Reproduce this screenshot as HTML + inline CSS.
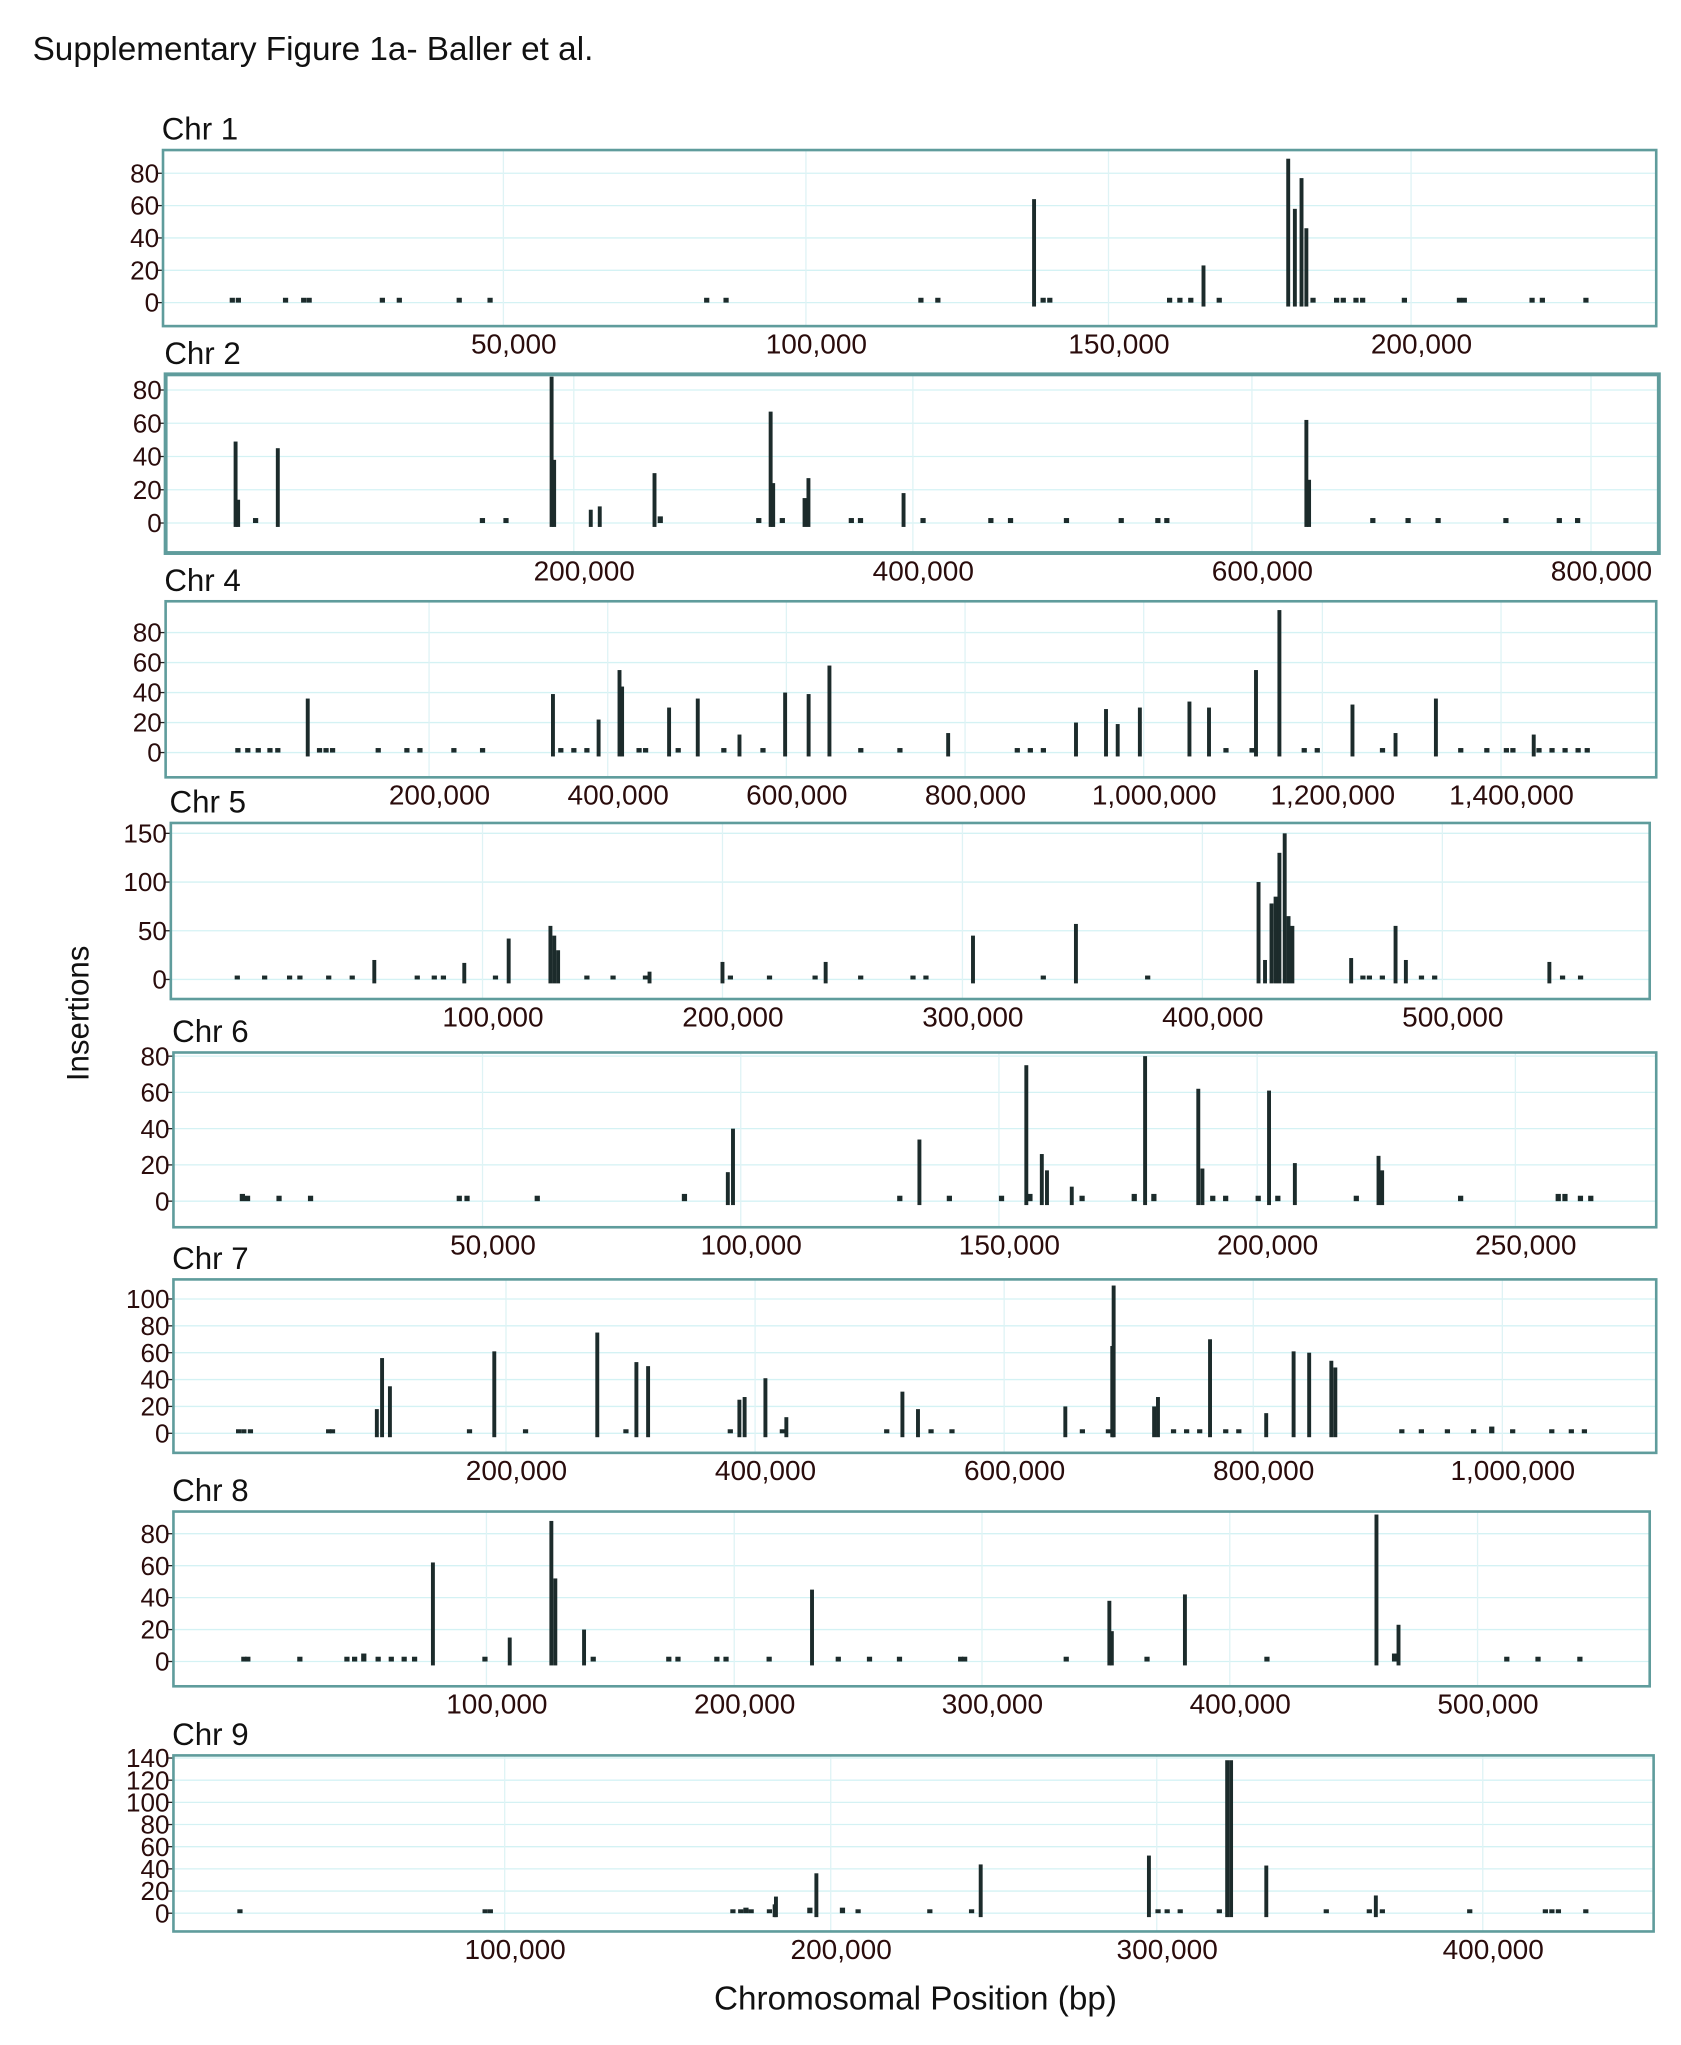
<!DOCTYPE html>
<html><head><meta charset="utf-8"><style>
html,body{margin:0;padding:0;background:#fff;}
svg{display:block;font-family:"Liberation Sans",Arial,sans-serif;}
</style></head><body>
<svg id="fig" width="1681" height="2045" viewBox="0 0 1289 1568" xmlns="http://www.w3.org/2000/svg">
<text x="25" y="46" font-size="25.5" fill="#111" textLength="430" lengthAdjust="spacingAndGlyphs">Supplementary Figure 1a- Baller et al.</text>
<text transform="translate(68,777) rotate(-90)" text-anchor="middle" font-size="24" fill="#111">Insertions</text>
<text x="702" y="1541" text-anchor="middle" font-size="25.5" fill="#111">Chromosomal Position (bp)</text>
<g id="panels"></g>
</svg>
<script>
const chr1Pos=[5200,6200,14000,17000,17900,30000,32800,42700,47800,83600,86800,119000,121800,137700,139200,140300,160100,161800,163600,165700,168300,179700,180800,181900,182700,183800,187700,188800,190900,192000,198900,208000,208800,220000,221700,228900];
const chr1Val=[3,3,3,3,3,3,3,3,3,3,3,3,3,64,3,3,3,3,3,23,3,89,58,77,46,3,3,3,3,3,3,3,3,3,3,3];
const chr2Pos=[500,2000,25400,186900,188400,210000,215300,247600,251000,316100,317600,336100,338400,394500,632100,633700,12300,146100,160000,309100,323000,363700,369100,406000,446000,457600,490600,522900,544500,549800,671300,692100,709800,749800,781300,792100];
const chr2Val=[49,14,45,88,38,8,10,30,4,67,24,15,27,18,62,26,3,3,3,3,3,3,3,3,3,3,3,3,3,3,3,3,3,3,3,3];
const chr4Pos=[64200,338700,389800,413200,416100,468700,500800,547500,598600,624900,648200,781100,924200,957800,970900,995700,1051200,1073100,1125700,1151900,1233700,1281900,1327100,1436600,-14000,-2900,8800,21900,30700,77400,84700,92000,143100,175200,189800,227800,259900,347500,362100,376700,435100,442400,478900,530000,573800,683300,727100,858500,873100,887700,1092100,1121300,1179700,1194300,1267300,1354900,1384100,1406000,1413300,1442500,1457100,1471700,1486300,1496500];
const chr4Val=[36,39,22,55,44,30,36,12,40,39,58,13,20,29,19,30,34,30,55,95,32,13,36,12,3,3,3,3,3,3,3,3,3,3,3,3,3,3,3,3,3,3,3,3,3,3,3,3,3,3,3,3,3,3,3,3,3,3,3,3,3,3,3,3];
const chr5Pos=[54900,92400,110900,128300,129900,131500,169600,200000,243000,304400,347300,423400,426100,428800,430500,432100,434300,435900,437500,462000,480500,484800,544600,-2200,9200,19600,23900,35900,45700,72800,79900,83700,105400,143500,154400,167900,203300,219600,238600,257600,279400,284800,333700,377200,466900,469600,475000,491300,496800,550100,557600];
const chr5Val=[20,17,42,55,45,30,8,18,18,45,57,100,20,78,85,130,150,65,55,22,55,20,18,3,3,3,3,3,3,3,3,3,3,3,3,3,3,3,3,3,3,3,3,3,3,3,3,3,3,3,3];
const chr6Pos=[97500,98500,134600,155300,158300,159300,164100,178300,188600,189400,202300,207300,223500,224200,3500,4500,10600,16700,45500,47000,60600,89100,130800,140400,150500,156000,166100,176200,180000,191400,193900,200200,204000,219200,239400,258300,259600,262600,264600];
const chr6Val=[16,40,34,75,26,17,8,80,62,18,61,21,25,17,4,3,3,3,3,3,3,4,3,3,3,4,3,4,4,3,3,3,3,3,3,4,4,3,3];
const chr7Pos=[96300,100500,106800,190600,273300,304700,314100,387400,391600,408300,425100,518300,530800,649100,686800,687900,720400,723500,765300,810400,832400,844900,862700,865900,991500,-14700,-10500,-5200,57600,60700,170700,215700,296300,380100,421900,505700,541300,558100,662800,683700,736000,746500,757000,777900,788400,919300,935000,955900,976900,1008300,1039700,1055400,1065900];
const chr7Val=[18,56,35,61,75,53,50,25,27,41,12,31,18,20,65,110,20,27,70,15,61,60,54,49,5,3,3,3,3,3,3,3,3,3,3,3,3,3,3,3,3,3,3,3,3,3,3,3,3,3,3,3,3];
const chr8Pos=[78400,109400,126200,127800,139400,231400,351400,352400,381900,459200,468100,466500,2100,3700,24700,43700,46800,50500,56300,61600,66800,71000,99400,143100,173600,177300,193000,196700,214100,242000,254600,266700,291400,293000,334000,366600,415000,511800,524400,541300];
const chr8Val=[62,15,88,52,20,45,38,19,42,92,23,5,3,3,3,3,3,5,3,3,3,3,3,3,3,3,3,3,3,3,3,3,3,3,3,3,3,3,3,3];
const chr9Pos=[182800,183200,195600,246000,297600,321600,322800,333600,367200,18800,94000,95600,170000,172400,174000,175600,181200,193600,203600,208400,230400,243200,300400,303200,307200,319200,352000,365200,369200,396000,419200,421200,423200,431600];
const chr9Val=[8,15,36,44,52,138,138,43,16,3,3,3,3,3,5,3,3,5,5,3,3,3,3,3,3,3,3,3,3,3,3,3,3,3];

const panels=[
 {name:'Chr 1',pos:chr1Pos,val:chr1Val,box:[125,115,1270,250],y0:232,ppu:1.24,yt:[0,20,40,60,80],x0:154,ppb:232/50000,xt:[50000,100000,150000,200000]},
 {name:'Chr 2',pos:chr2Pos,val:chr2Val,box:[127,287,1272,424],y0:401,ppu:1.275,yt:[0,20,40,60,80],x0:180,ppb:260/200000,xt:[200000,400000,600000,800000]},
 {name:'Chr 4',pos:chr4Pos,val:chr4Val,box:[127,461,1270,596],y0:577,ppu:1.15,yt:[0,20,40,60,80],x0:192,ppb:137/200000,xt:[200000,400000,600000,800000,1000000,1200000,1400000]},
 {name:'Chr 5',pos:chr5Pos,val:chr5Val,box:[131,631,1265,766],y0:751,ppu:0.747,yt:[0,50,100,150],x0:186,ppb:184/100000,xt:[100000,200000,300000,400000,500000]},
 {name:'Chr 6',pos:chr6Pos,val:chr6Val,box:[133,807,1270,941],y0:921,ppu:1.39,yt:[0,20,40,60,80],x0:172,ppb:198/50000,xt:[50000,100000,150000,200000,250000]},
 {name:'Chr 7',pos:chr7Pos,val:chr7Val,box:[133,981,1270,1114],y0:1099,ppu:1.03,yt:[0,20,40,60,80,100],x0:197,ppb:191/200000,xt:[200000,400000,600000,800000,1000000]},
 {name:'Chr 8',pos:chr8Pos,val:chr8Val,box:[133,1159,1265,1293],y0:1274,ppu:1.225,yt:[0,20,40,60,80],x0:183,ppb:190/100000,xt:[100000,200000,300000,400000,500000]},
 {name:'Chr 9',pos:chr9Pos,val:chr9Val,box:[133,1346,1268,1481],y0:1467,ppu:0.85,yt:[0,20,40,60,80,100,120,140],x0:137,ppb:250/100000,xt:[100000,200000,300000,400000]}
];
const NS='http://www.w3.org/2000/svg';
const root=document.getElementById('panels');
function mk(tag,attrs,parent){const e=document.createElementNS(NS,tag);for(const k in attrs)e.setAttribute(k,attrs[k]);parent.appendChild(e);return e;}
panels.forEach((p,i)=>{
  const g=mk('g',{},root);
  
  
  const [l,t,r,b]=p.box;
  const xs=v=>p.x0+v*p.ppb, ys=v=>p.y0-v*p.ppu;
  const tt=mk('text',{x:l-1,y:t-8,'font-size':24,fill:'#111'},g);tt.textContent=p.name;
  
  
  p.yt.forEach(v=>{
    const ln=mk('line',{x1:l,x2:r,y1:ys(v),y2:ys(v),stroke:'#d4f2f4','stroke-width':1},g);
    
    
    mk('line',{x1:l-5,x2:l,y1:ys(v),y2:ys(v),stroke:'#222','stroke-width':1},g);
    const tx=mk('text',{x:l-3,y:ys(v)+7,'text-anchor':'end','font-size':20,fill:'#2a0c0c'},g);tx.textContent=v;
    
    
  });
  p.xt.forEach(v=>{
    const ln=mk('line',{x1:xs(v),x2:xs(v),y1:t,y2:b,stroke:'#dff3f5','stroke-width':1},g);
    
    
    const tx=mk('text',{x:xs(v)+8,y:b+21,'text-anchor':'middle','font-size':21.5,fill:'#2a0c0c'},g);tx.textContent=v.toLocaleString('en-US');
    
    
  });
  p.pos.forEach((x,j)=>{
    const v=p.val[j];
    const small=v<=5;
    const w=small?4:3;
    const h=Math.max(v*p.ppu,3);
    const rc=mk('rect',{x:xs(x)-w/2,y:p.y0-h,width:w,height:h+(small?0:3),fill:'#1c2b2b'},g);
    
    
  });
  const bx=mk('rect',{x:l,y:t,width:r-l,height:b-t,fill:'none',stroke:'#5f9c9c','stroke-width':i==1?3:2},g);
  
  
});
</script>
</body></html>
